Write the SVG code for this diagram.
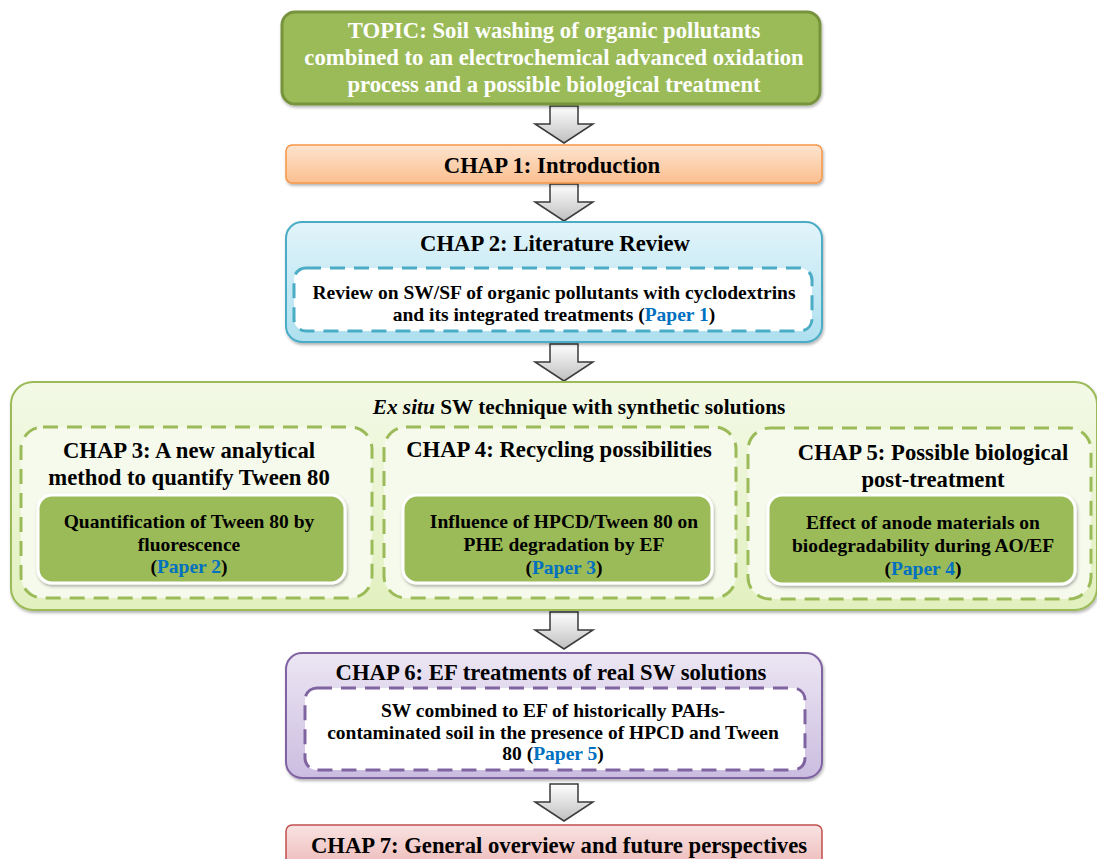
<svg xmlns="http://www.w3.org/2000/svg" width="1097" height="859" viewBox="0 0 1097 859">
<style>
text{font-family:"Liberation Serif","Times New Roman",serif;font-weight:bold;text-anchor:middle;fill:#000}
.t{font-size:22.7px}
.s{font-size:19.5px}
.w{fill:#fff}
.p{fill:#0070c0}
.arrow{fill:url(#ga);stroke:#3a3a3a;stroke-width:1.5}
.dash{stroke-width:3;stroke-dasharray:15 9}
</style>
<defs>
<linearGradient id="ga" x1="0" y1="0" x2="0" y2="1"><stop offset="0" stop-color="#ffffff"/><stop offset="1" stop-color="#bfbfbf"/></linearGradient>
<linearGradient id="go" x1="0" y1="0" x2="0" y2="1"><stop offset="0" stop-color="#fde4cf"/><stop offset="1" stop-color="#fbbf8f"/></linearGradient>
<linearGradient id="gb" x1="0" y1="0" x2="0" y2="1"><stop offset="0" stop-color="#e2f4fa"/><stop offset="1" stop-color="#aee0ef"/></linearGradient>
<linearGradient id="gg" x1="0" y1="0" x2="0" y2="1"><stop offset="0" stop-color="#f3f9e6"/><stop offset="1" stop-color="#e2f0bf"/></linearGradient>
<linearGradient id="gv" x1="0" y1="0" x2="0" y2="1"><stop offset="0" stop-color="#ece6f3"/><stop offset="1" stop-color="#cbbde0"/></linearGradient>
<linearGradient id="gr" x1="0" y1="0" x2="0" y2="1"><stop offset="0" stop-color="#f8e3e2"/><stop offset="1" stop-color="#eebcbb"/></linearGradient>
<filter id="sh" x="-5%" y="-10%" width="110%" height="130%"><feDropShadow dx="1" dy="2" stdDeviation="1.5" flood-color="#000" flood-opacity="0.3"/></filter>
<path id="arr" d="M-14 0H14V18H29L0 37L-29 18H-14Z"/>
</defs>

<g id="connectors">
<use href="#arr" class="arrow" x="564" y="106"/>
<use href="#arr" class="arrow" x="564" y="184"/>
<use href="#arr" class="arrow" x="564" y="344"/>
<use href="#arr" class="arrow" x="564" y="612"/>
<use href="#arr" class="arrow" x="564" y="784"/>
</g>

<g id="topic">
<rect x="282" y="12" width="538" height="92" rx="13" fill="#9bbb59" stroke="#77933c" stroke-width="3" filter="url(#sh)"/>
<text class="t w" x="554" y="38">TOPIC: Soil washing of organic pollutants</text>
<text class="t w" x="554" y="65">combined to an electrochemical advanced oxidation</text>
<text class="t w" x="554" y="92">process and a possible biological treatment</text>
</g>

<g id="chap1">
<rect x="286" y="145" width="536" height="38" rx="6" fill="url(#go)" stroke="#f79646" stroke-width="1.5" filter="url(#sh)"/>
<text class="t" x="552" y="173">CHAP 1: Introduction</text>
</g>

<g id="chap2">
<rect x="286" y="222" width="536" height="120" rx="16" fill="url(#gb)" stroke="#4bacc6" stroke-width="2" filter="url(#sh)"/>
<text class="t" x="555" y="251">CHAP 2: Literature Review</text>
<rect x="294" y="268" width="518" height="63" rx="12" fill="#fff" stroke="#4bacc6" class="dash"/>
<text class="s" x="554" y="299">Review on SW/SF of organic pollutants with cyclodextrins</text>
<text class="s" x="554" y="321">and its integrated treatments (<tspan class="p">Paper 1</tspan>)</text>
</g>

<g id="exsitu">
<rect x="11" y="382" width="1086" height="228" rx="22" fill="url(#gg)" stroke="#9bbb59" stroke-width="2" filter="url(#sh)"/>
<text class="t" x="579" y="414" style="font-size:21.3px"><tspan font-style="italic">Ex situ</tspan> SW technique with synthetic solutions</text>
</g>

<g id="chap3">
<rect x="21" y="427" width="351" height="171" rx="22" fill="#f6faec" stroke="#9bbb59" class="dash"/>
<text class="t" x="189" y="458">CHAP 3: A new analytical</text>
<text class="t" x="189" y="485">method to quantify Tween 80</text>
<rect x="38" y="495" width="307" height="88" rx="14" fill="#9bbb59" stroke="#fff" stroke-width="3" filter="url(#sh)"/>
<text class="s" x="189" y="528">Quantification of Tween 80 by</text>
<text class="s" x="189" y="551">fluorescence</text>
<text class="s" x="189" y="573">(<tspan class="p">Paper 2</tspan>)</text>
</g>

<g id="chap4">
<rect x="384" y="427" width="352" height="171" rx="22" fill="#f6faec" stroke="#9bbb59" class="dash"/>
<text class="t" x="559" y="457">CHAP 4: Recycling possibilities</text>
<rect x="403" y="495" width="309" height="88" rx="14" fill="#9bbb59" stroke="#fff" stroke-width="3" filter="url(#sh)"/>
<text class="s" x="564" y="528">Influence of HPCD/Tween 80 on</text>
<text class="s" x="564" y="551">PHE degradation by EF</text>
<text class="s" x="564" y="574">(<tspan class="p">Paper 3</tspan>)</text>
</g>

<g id="chap5">
<rect x="748" y="428" width="343" height="171" rx="22" fill="#f6faec" stroke="#9bbb59" class="dash"/>
<text class="t" x="933" y="460">CHAP 5: Possible biological</text>
<text class="t" x="933" y="487">post-treatment</text>
<rect x="768" y="495" width="307" height="89" rx="14" fill="#9bbb59" stroke="#fff" stroke-width="3" filter="url(#sh)"/>
<text class="s" x="923" y="529">Effect of anode materials on</text>
<text class="s" x="923" y="552">biodegradability during AO/EF</text>
<text class="s" x="923" y="575">(<tspan class="p">Paper 4</tspan>)</text>
</g>

<g id="chap6">
<rect x="286" y="653" width="536" height="125" rx="16" fill="url(#gv)" stroke="#8064a2" stroke-width="2" filter="url(#sh)"/>
<text class="t" x="551" y="680">CHAP 6: EF treatments of real SW solutions</text>
<rect x="305" y="688" width="500" height="82" rx="12" fill="#fff" stroke="#8064a2" class="dash"/>
<text class="s" x="553" y="717">SW combined to EF of historically PAHs-</text>
<text class="s" x="553" y="739">contaminated soil in the presence of HPCD and Tween</text>
<text class="s" x="553" y="760">80 (<tspan class="p">Paper 5</tspan>)</text>
</g>

<g id="chap7">
<rect x="286" y="825" width="536" height="40" rx="6" fill="url(#gr)" stroke="#c0504d" stroke-width="1.5"/>
<text class="t" x="559" y="853">CHAP 7: General overview and future perspectives</text>
</g>
</svg>
